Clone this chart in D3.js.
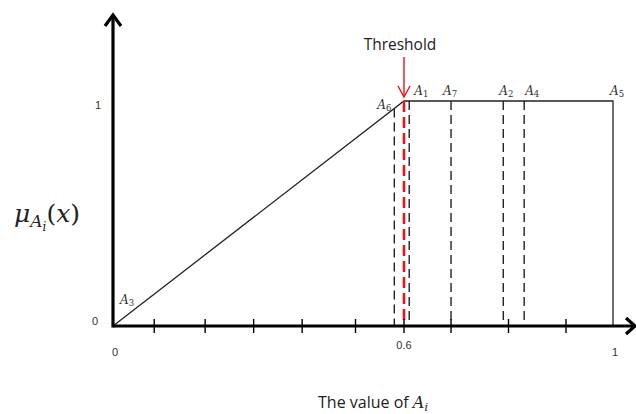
<!DOCTYPE html>
<html><head><meta charset="utf-8">
<script src="https://cdn.jsdelivr.net/npm/d3@7"></script>
<style>body{margin:0;background:#fff}svg{display:block}</style>
</head><body><svg id="c" width="636" height="414"></svg>
<script>
// Data
const membershipPts = [[0,0],[0.6,1],[1,1],[1,0]];
const threshold = 0.6;
const alternatives = ["A1","A2","A3","A4","A5","A6","A7"];
const altValues = [0.61,0.79,0,0.83,1,0.58,0.69];
const tickValues = [0.085,0.19,0.29,0.39,0.5,0.6,0.69,0.8,0.91];
const xTickLabels = [[0,"0"],[0.6,"0.6"],[1,"1"]];
const yTickLabels = [[0,"0"],[1,"1"]];

const svg = d3.select("#c");
const x = d3.scaleLinear().domain([0,0.6,1]).range([113,404,613]);
const y = d3.scaleLinear().domain([0,1]).range([326,101]);
const mu = v => v <= 0.6 ? v/0.6 : 1;

// membership line
svg.append("path").datum(membershipPts)
  .attr("d", d3.line().x(d=>x(d[0])).y(d=>y(d[1])))
  .attr("fill","none").attr("stroke","#222").attr("stroke-width",1.3);

// dashed lines
alternatives.forEach((a,i)=>{
  const v = altValues[i];
  if (v===0 || v===1) return;
  svg.append("line").attr("x1",x(v)).attr("x2",x(v)).attr("y1",y(mu(v))).attr("y2",y(0))
    .attr("stroke","#222").attr("stroke-width",1.4).attr("stroke-dasharray","9,5");
});
// threshold
svg.append("line").attr("x1",x(threshold)).attr("x2",x(threshold)).attr("y1",y(1)).attr("y2",y(0))
  .attr("stroke","#e8141b").attr("stroke-width",2.6).attr("stroke-dasharray","11,5");

// axes
const ax = svg.append("g").attr("stroke","#000").attr("fill","none");
ax.append("line").attr("x1",x(0)).attr("x2",634).attr("y1",y(0)).attr("y2",y(0)).attr("stroke-width",3.2);
ax.append("line").attr("x1",x(0)).attr("x2",x(0)).attr("y1",y(0)+1.5).attr("y2",15).attr("stroke-width",3.2);
ax.append("path").attr("d",`M${x(0)-8},${26} L${x(0)},15 L${x(0)+8},26`).attr("stroke-width",3.2);
ax.append("path").attr("d",`M626,${y(0)-8} L635,${y(0)} L626,${y(0)+8}`).attr("stroke-width",3.2);
tickValues.forEach(t=>{
  ax.append("line").attr("x1",x(t)).attr("x2",x(t)).attr("y1",y(0)-7).attr("y2",y(0)+7).attr("stroke-width",1.4);
});

// tick labels
const lblFont = "'Liberation Sans', Arial, sans-serif";
xTickLabels.forEach(([v,t])=>{
  svg.append("text").attr("x",x(v)+(v===0.6?0:2)).attr("y", v===0.6?349:356).attr("text-anchor","middle")
    .attr("font-family",lblFont).attr("font-size",11).attr("fill","#333").text(t);
});
yTickLabels.forEach(([v,t])=>{
  svg.append("text").attr("x", v===0?95:98).attr("y",y(v)+(v===0?-1:8)).attr("text-anchor","middle")
    .attr("font-family",lblFont).attr("font-size",11).attr("fill","#333").text(t);
});

// threshold arrow & label
svg.append("text").attr("x",x(threshold)-4).attr("y",50).attr("text-anchor","middle")
  .attr("font-family","'Open Sans', sans-serif").attr("font-size",15.5).attr("fill","#222").text("Threshold");
svg.append("line").attr("x1",x(threshold)).attr("x2",x(threshold)).attr("y1",57).attr("y2",97)
  .attr("stroke","#e8141b").attr("stroke-width",1.4);
svg.append("path").attr("d",`M${x(threshold)-6},86 L${x(threshold)},97 L${x(threshold)+6},86`)
  .attr("stroke","#e8141b").attr("stroke-width",1.4).attr("fill","none");

// alternative labels
const mathFont = "'DejaVu Serif', 'Liberation Serif', serif";
const labelOffsets = {A1:[5,-6],A2:[-4,-6],A3:[7,-22],A4:[1,-6],A5:[-3,-6],A6:[-17,0],A7:[-8,-6]};
alternatives.forEach((a,i)=>{
  const v = altValues[i];
  const [dx,dy] = labelOffsets[a];
  const t = svg.append("text").attr("x",x(v)+dx).attr("y",y(mu(v))+dy)
    .attr("font-family",mathFont).attr("font-style","italic").attr("font-size",12).attr("fill","#333");
  t.append("tspan").text("A");
  t.append("tspan").attr("font-size",8.5).attr("font-style","normal").attr("dy",2).text(a.slice(1));
});

// y label
const yl = svg.append("text").attr("x",14).attr("y",222).attr("font-family",mathFont)
  .attr("font-style","italic").attr("font-size",25).attr("fill","#222");
yl.append("tspan").text("μ");
yl.append("tspan").attr("font-size",17).attr("dy",5).text("A");
yl.append("tspan").attr("font-size",12).attr("dy",4).text("i");
yl.append("tspan").attr("dy",-9).attr("font-style","normal").text("(");
yl.append("tspan").text("x");
yl.append("tspan").attr("font-style","normal").text(")");

// x label
const xl = svg.append("text").attr("x",318).attr("y",408).attr("font-family","'Open Sans', sans-serif")
  .attr("font-size",16).attr("fill","#222");
xl.append("tspan").text("The value of ");
xl.append("tspan").attr("font-family",mathFont).attr("font-style","italic").text("A");
xl.append("tspan").attr("font-family",mathFont).attr("font-style","italic").attr("font-size",11).attr("dy",3).text("i");
</script></body></html>
